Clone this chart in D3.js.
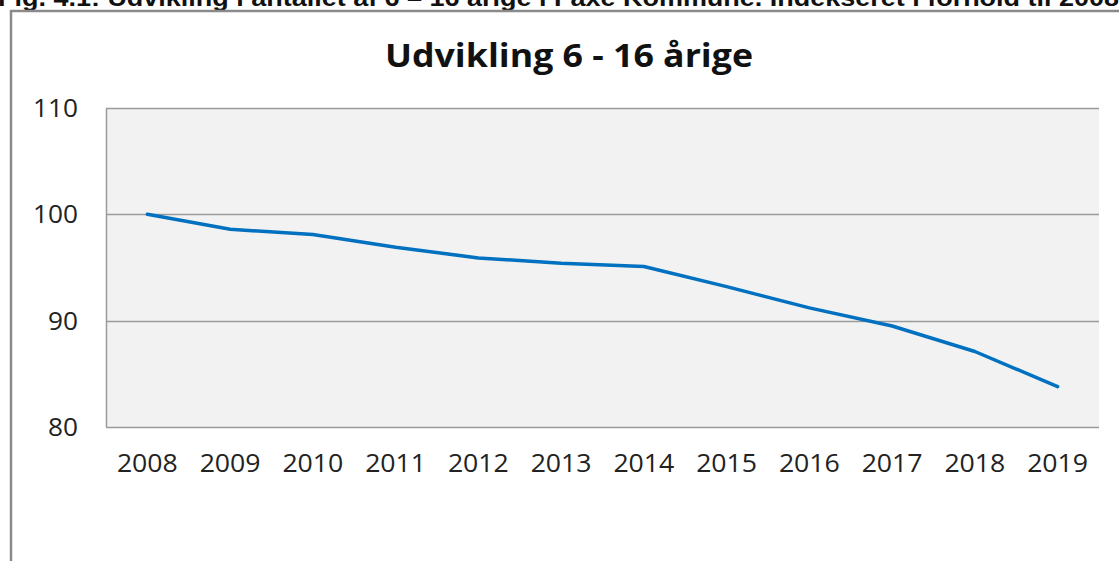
<!DOCTYPE html>
<html>
<head>
<meta charset="utf-8">
<script src="https://cdn.jsdelivr.net/npm/d3@7"></script>
<style>
  body { margin: 0; background: #fff; }
  svg { display: block; }
</style>
</head>
<body>
<div id="vis"></div>
<script>
// data (index, 2008 = 100)
var years = ['2008', '2009', '2010', '2011', '2012', '2013', '2014', '2015', '2016', '2017', '2018', '2019'];
var index = [100, 98.6, 98.1, 96.9, 95.9, 95.4, 95.1, 93.2, 91.2, 89.5, 87.1, 83.8];
var yTicks = [80, 90, 100, 110];

var width = 1119;
var height = 561;
var plot = { left: 106, right: 1099, top: 108, bottom: 427 };

var svg = d3.select('#vis').append('svg')
  .attr('width', width)
  .attr('height', height);

// caption, cut off at top of the page
svg.append('text')
  .attr('x', -2)
  .attr('y', 6)
  .attr('textLength', 1121)
  .attr('lengthAdjust', 'spacingAndGlyphs')
  .style('font-family', 'Liberation Sans, Arial, sans-serif')
  .style('font-weight', 'bold')
  .style('font-size', '24px')
  .style('fill', '#111')
  .text('Fig. 4.1: Udvikling i antallet af 6 – 16 årige i Faxe Kommune. Indekseret i forhold til 2008');

// outer chart frame (only left and top edges visible)
svg.append('path')
  .attr('d', 'M11,' + height + 'V11H' + width)
  .attr('fill', 'none')
  .attr('stroke', '#8a8a8a')
  .attr('stroke-width', 2.5);

var x = d3.scaleBand()
  .domain(years)
  .range([plot.left, plot.right]);

var y = d3.scaleLinear()
  .domain([80, 110])
  .range([plot.bottom, plot.top]);

// plot area
svg.append('rect')
  .attr('x', plot.left)
  .attr('y', plot.top)
  .attr('width', plot.right - plot.left)
  .attr('height', plot.bottom - plot.top)
  .attr('fill', '#f2f2f2');

// gridlines
svg.append('g').selectAll('line')
  .data(yTicks)
  .enter().append('line')
  .attr('x1', plot.left)
  .attr('x2', plot.right)
  .attr('y1', function (d) { return Math.round(y(d)) + 0.5; })
  .attr('y2', function (d) { return Math.round(y(d)) + 0.5; })
  .attr('stroke', '#9a9a9a')
  .attr('stroke-width', 1.5);

// left axis line
svg.append('line')
  .attr('x1', plot.left + 0.5)
  .attr('x2', plot.left + 0.5)
  .attr('y1', plot.top)
  .attr('y2', plot.bottom)
  .attr('stroke', '#9a9a9a')
  .attr('stroke-width', 1.5);

var labelFont = 'Open Sans, sans-serif';

// y tick labels
svg.append('g').selectAll('text')
  .data(yTicks)
  .enter().append('text')
  .attr('x', 78)
  .attr('y', function (d) { return y(d) + 9; })
  .attr('text-anchor', 'end')
  .attr('textLength', function (d) { return String(d).length * 15; })
  .attr('lengthAdjust', 'spacingAndGlyphs')
  .style('font-family', labelFont)
  .style('font-size', '25px')
  .style('fill', '#222')
  .text(function (d) { return d; });

// x tick labels
svg.append('g').selectAll('text')
  .data(years)
  .enter().append('text')
  .attr('x', function (d) { return x(d) + x.bandwidth() / 2; })
  .attr('y', 472)
  .attr('text-anchor', 'middle')
  .attr('textLength', 61)
  .attr('lengthAdjust', 'spacingAndGlyphs')
  .style('font-family', labelFont)
  .style('font-size', '25px')
  .style('fill', '#222')
  .text(function (d) { return d; });

// title
svg.append('text')
  .attr('x', 569)
  .attr('y', 67)
  .attr('text-anchor', 'middle')
  .attr('textLength', 368)
  .attr('lengthAdjust', 'spacingAndGlyphs')
  .style('font-family', labelFont)
  .style('font-weight', 'bold')
  .style('font-size', '33px')
  .style('fill', '#111')
  .text('Udvikling 6 - 16 årige');

// the line
var line = d3.line()
  .x(function (d, i) { return x(years[i]) + x.bandwidth() / 2; })
  .y(function (d) { return y(d); });

svg.append('path')
  .datum(index)
  .attr('d', line)
  .attr('fill', 'none')
  .attr('stroke', '#0070c0')
  .attr('stroke-width', 3.5)
  .attr('stroke-linejoin', 'round')
  .attr('stroke-linecap', 'round');
</script>
</body>
</html>
